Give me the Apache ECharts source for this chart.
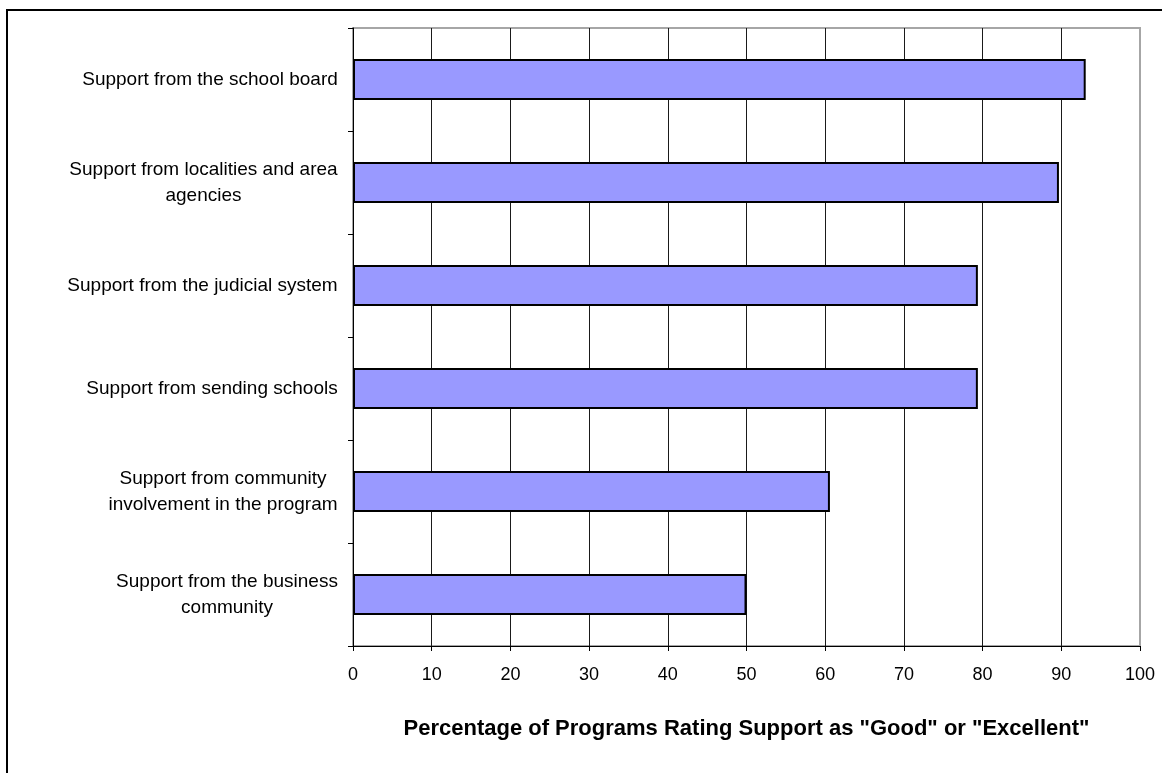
<!DOCTYPE html>
<html>
<head>
<meta charset="utf-8">
<script src="https://cdn.jsdelivr.net/npm/echarts@6/dist/echarts.min.js"></script>
<style>
    html, body { margin: 0; padding: 0; background: #fff; }
    #support { width: 1162px; height: 773px; }
</style>
</head>
<body>
<div id="support"></div>
<script>
    // 类目（从上到下）
    var categories = [
        'Support from the school board',
        'Support from localities and area\nagencies',
        'Support from the judicial system',
        'Support from sending schools',
        'Support from community\ninvolvement in the program',
        'Support from the business\ncommunity'
    ];
    // 百分比数值
    var percent = [93.1, 89.7, 79.4, 79.4, 60.6, 50.0];
    // x轴刻度
    var xTicks = [0, 10, 20, 30, 40, 50, 60, 70, 80, 90, 100];

    var fontName = "'Liberation Sans', Arial, sans-serif";
    var labelSize = 19;

    // 量一下每个标签最长一行的宽度，用来让多行居中
    var ctx = document.createElement('canvas').getContext('2d');
    ctx.font = labelSize + 'px ' + fontName;
    var rich = {};
    categories.forEach(function (c, i) {
        var w = 0;
        c.split('\n').forEach(function (line) {
            w = Math.max(w, ctx.measureText(line).width);
        });
        rich['c' + i] = {
            width: Math.ceil(w),
            align: 'center',
            fontSize: labelSize,
            lineHeight: 26,
            fontFamily: fontName,
            color: '#000'
        };
    });

    var option = {
        animation: false,
        backgroundColor: '#fff',
        grid: {
            left: 353,
            top: 28,
            right: 22,
            bottom: 127,
            show: true,
            borderColor: '#a6a6a6',
            borderWidth: 2
        },
        graphic: [
            {
                // 外框，右边和下边超出画面
                type: 'rect',
                shape: { x: 7, y: 10, width: 1300, height: 900 },
                style: { fill: 'none', stroke: '#000', lineWidth: 2 },
                silent: true
            }
        ],
        xAxis: {
            type: 'value',
            min: xTicks[0],
            max: xTicks[xTicks.length - 1],
            interval: xTicks[1] - xTicks[0],
            name: 'Percentage of Programs Rating Support as "Good" or "Excellent"',
            nameLocation: 'middle',
            nameGap: 72,
            nameTextStyle: {
                fontFamily: fontName,
                fontSize: 22,
                fontWeight: 'bold',
                color: '#000'
            },
            axisLine: { show: true, lineStyle: { color: '#000', width: 1 } },
            axisTick: { show: true, length: 5, lineStyle: { color: '#000' } },
            axisLabel: {
                margin: 20,
                fontSize: 18,
                fontFamily: fontName,
                color: '#000'
            },
            splitLine: {
                show: true,
                showMaxLine: false,
                lineStyle: { color: '#1a1a1a', width: 1 }
            }
        },
        yAxis: {
            type: 'category',
            inverse: true,
            data: categories,
            axisLine: { show: true, lineStyle: { color: '#000', width: 1 } },
            axisTick: { show: true, length: 5, lineStyle: { color: '#000' } },
            axisLabel: {
                margin: 15,
                align: 'right',
                formatter: function (value, idx) {
                    return value.split('\n').map(function (line) {
                        return '{c' + idx + '|' + line + '}';
                    }).join('\n');
                },
                rich: rich
            },
            splitLine: { show: false }
        },
        series: [
            {
                name: 'Percentage',
                type: 'bar',
                data: percent,
                barWidth: '40%',
                itemStyle: {
                    color: '#9999ff',
                    borderColor: '#000',
                    borderWidth: 2
                }
            }
        ]
    };

    var myChart = echarts.init(document.getElementById('support'));
    myChart.setOption(option);
</script>
</body>
</html>
